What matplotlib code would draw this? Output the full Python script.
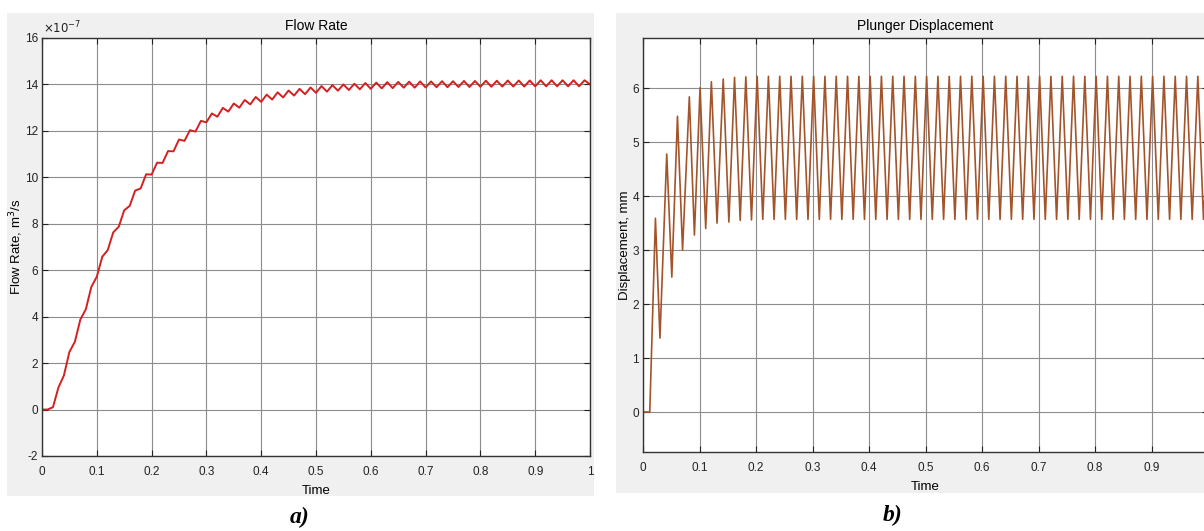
import matplotlib
matplotlib.use("Agg")
import matplotlib.pyplot as plt

plt.rcParams["font.family"] = ["Liberation Sans", "DejaVu Sans"]
plt.rcParams["axes.unicode_minus"] = False

# Flow rate (x1e-7 m^3/s), ripple extremes every half period
FLOW_T = [0.00, 0.01, 0.02, 0.03, 0.04, 0.05, 0.06, 0.07, 0.08, 0.09,
          0.10, 0.11, 0.12, 0.13, 0.14, 0.15, 0.16, 0.17, 0.18, 0.19,
          0.20, 0.21, 0.22, 0.23, 0.24, 0.25, 0.26, 0.27, 0.28, 0.29,
          0.30, 0.31, 0.32, 0.33, 0.34, 0.35, 0.36, 0.37, 0.38, 0.39,
          0.40, 0.41, 0.42, 0.43, 0.44, 0.45, 0.46, 0.47, 0.48, 0.49,
          0.50, 0.51, 0.52, 0.53, 0.54, 0.55, 0.56, 0.57, 0.58, 0.59,
          0.60, 0.61, 0.62, 0.63, 0.64, 0.65, 0.66, 0.67, 0.68, 0.69,
          0.70, 0.71, 0.72, 0.73, 0.74, 0.75, 0.76, 0.77, 0.78, 0.79,
          0.80, 0.81, 0.82, 0.83, 0.84, 0.85, 0.86, 0.87, 0.88, 0.89,
          0.90, 0.91, 0.92, 0.93, 0.94, 0.95, 0.96, 0.97, 0.98, 0.99, 1.00]
FLOW_V = [0.00, 0.00, 0.10, 0.95, 1.47, 2.48, 2.92, 3.88, 4.32, 5.28,
          5.72, 6.58, 6.87, 7.63, 7.87, 8.58, 8.77, 9.43, 9.52, 10.13,
          10.12, 10.63, 10.62, 11.13, 11.12, 11.63, 11.57, 12.03, 11.97, 12.43,
          12.37, 12.75, 12.61, 12.99, 12.83, 13.18, 13.00, 13.33, 13.14, 13.46,
          13.25, 13.56, 13.35, 13.66, 13.44, 13.74, 13.52, 13.81, 13.58, 13.87,
          13.64, 13.93, 13.69, 13.97, 13.73, 14.00, 13.76, 14.03, 13.79, 14.06,
          13.81, 14.08, 13.83, 14.10, 13.84, 14.11, 13.86, 14.12, 13.86, 14.13,
          13.87, 14.13, 13.88, 14.14, 13.88, 14.14, 13.89, 14.15, 13.89, 14.15,
          13.90, 14.16, 13.90, 14.16, 13.91, 14.17, 13.91, 14.17, 13.91, 14.17,
          13.92, 14.18, 13.92, 14.18, 13.92, 14.18, 13.92, 14.18, 13.92, 14.18, 14.00]

# Plunger displacement (mm), peaks and troughs
DISP_T = [0.000, 0.012, 0.022, 0.030, 0.042, 0.051, 0.061, 0.070, 0.082, 0.091,
          0.101, 0.111, 0.121, 0.131, 0.142, 0.152, 0.162, 0.172, 0.182, 0.192,
          0.202, 0.212, 0.222, 0.232, 0.242, 0.252, 0.262, 0.272, 0.282, 0.292,
          0.302, 0.312, 0.322, 0.332, 0.342, 0.352, 0.362, 0.372, 0.382, 0.392,
          0.402, 0.412, 0.422, 0.432, 0.442, 0.452, 0.462, 0.472, 0.482, 0.492,
          0.502, 0.512, 0.522, 0.532, 0.542, 0.552, 0.562, 0.572, 0.582, 0.592,
          0.602, 0.612, 0.622, 0.632, 0.642, 0.652, 0.662, 0.672, 0.682, 0.692,
          0.702, 0.712, 0.722, 0.732, 0.742, 0.752, 0.762, 0.772, 0.782, 0.792,
          0.802, 0.812, 0.822, 0.832, 0.842, 0.852, 0.862, 0.872, 0.882, 0.892,
          0.902, 0.912, 0.922, 0.932, 0.942, 0.952, 0.962, 0.972, 0.982, 0.992, 1.000]
DISP_V = [0.00, 0.00, 3.59, 1.37, 4.78, 2.50, 5.48, 3.00, 5.84, 3.28,
          6.01, 3.40, 6.12, 3.50, 6.17, 3.52, 6.20, 3.55, 6.21, 3.56,
          6.22, 3.57, 6.22, 3.57, 6.22, 3.57, 6.22, 3.57, 6.22, 3.57,
          6.22, 3.57, 6.22, 3.57, 6.22, 3.57, 6.22, 3.57, 6.22, 3.57,
          6.22, 3.57, 6.22, 3.57, 6.22, 3.57, 6.22, 3.57, 6.22, 3.57,
          6.22, 3.57, 6.22, 3.57, 6.22, 3.57, 6.22, 3.57, 6.22, 3.57,
          6.22, 3.57, 6.22, 3.57, 6.22, 3.57, 6.22, 3.57, 6.22, 3.57,
          6.22, 3.57, 6.22, 3.57, 6.22, 3.57, 6.22, 3.57, 6.22, 3.57,
          6.22, 3.57, 6.22, 3.57, 6.22, 3.57, 6.22, 3.57, 6.22, 3.57,
          6.22, 3.57, 6.22, 3.57, 6.22, 3.57, 6.22, 3.57, 6.22, 3.57, 5.00]

TIME_TICKS = [0, 0.1, 0.2, 0.3, 0.4, 0.5, 0.6, 0.7, 0.8, 0.9, 1]
TIME_LABELS = ["0", "0.1", "0.2", "0.3", "0.4", "0.5", "0.6", "0.7", "0.8", "0.9", "1"]
FLOW_TICKS = [-2, 0, 2, 4, 6, 8, 10, 12, 14, 16]
DISP_TICKS = [0, 1, 2, 3, 4, 5, 6]

W, H = 1204, 531
fig = plt.figure(figsize=(W / 100, H / 100), dpi=100)


def box(x0, y0, x1, y1):
    # pixel box (from top-left) -> figure fraction [l, b, w, h]
    return [x0 / W, 1 - y1 / H, (x1 - x0) / W, (y1 - y0) / H]


# grey MATLAB figure panels behind each plot
for x0, y0, x1, y1 in [(7, 13, 594, 496), (616, 13, 1210, 493)]:
    bg = fig.add_axes(box(x0, y0, x1, y1), zorder=-5)
    bg.set_facecolor("#f0f0f0")
    bg.set_xticks([])
    bg.set_yticks([])
    for s in bg.spines.values():
        s.set_visible(False)


def style(ax):
    ax.set_facecolor("white")
    ax.grid(True, color="#8c8c8c", linewidth=0.8)
    ax.set_axisbelow(True)
    ax.tick_params(direction="in", top=True, right=True, length=4,
                   labelsize=8.5, colors="#222222", pad=3)
    ax.tick_params(axis="x", pad=7)
    for s in ax.spines.values():
        s.set_color("#333333")
        s.set_linewidth(1.0)
    ax.set_xlim(0, 1)
    ax.set_xticks(TIME_TICKS)
    ax.set_xticklabels(TIME_LABELS)
    ax.set_xlabel("Time", fontsize=9.5, labelpad=5)


# a) flow rate
ax1 = fig.add_axes(box(42, 38, 590, 456))
ax1.plot(FLOW_T, FLOW_V, color="#d42020", linewidth=1.4)
style(ax1)
ax1.set_ylim(-2, 16)
ax1.set_yticks(FLOW_TICKS)
ax1.text(0.002, 1.004, r"$\times 10^{-7}$", transform=ax1.transAxes,
         fontsize=8.5, ha="left", va="bottom", color="#222222")
ax1.set_ylabel("Flow Rate, m$^3$/s", fontsize=9.5, labelpad=0)
ax1.set_title("Flow Rate", fontsize=10, pad=6)

# b) plunger displacement
ax2 = fig.add_axes(box(643, 38, 1208, 452))
ax2.plot(DISP_T, DISP_V, color="#a4542a", linewidth=1.2)
style(ax2)
ax2.set_ylim(-0.74, 6.93)
ax2.set_yticks(DISP_TICKS)
ax2.set_ylabel("Displacement, mm", fontsize=9.5, labelpad=1)
ax2.set_title("Plunger Displacement", fontsize=10, pad=6)

fig.text(300 / W, 1 - 517 / H, "a)", fontsize=17, fontweight="bold", style="italic",
         family="Liberation Serif", ha="center", va="center")
fig.text(893 / W, 1 - 515 / H, "b)", fontsize=17, fontweight="bold", style="italic",
         family="Liberation Serif", ha="center", va="center")

fig.savefig("out.png", dpi=100)
